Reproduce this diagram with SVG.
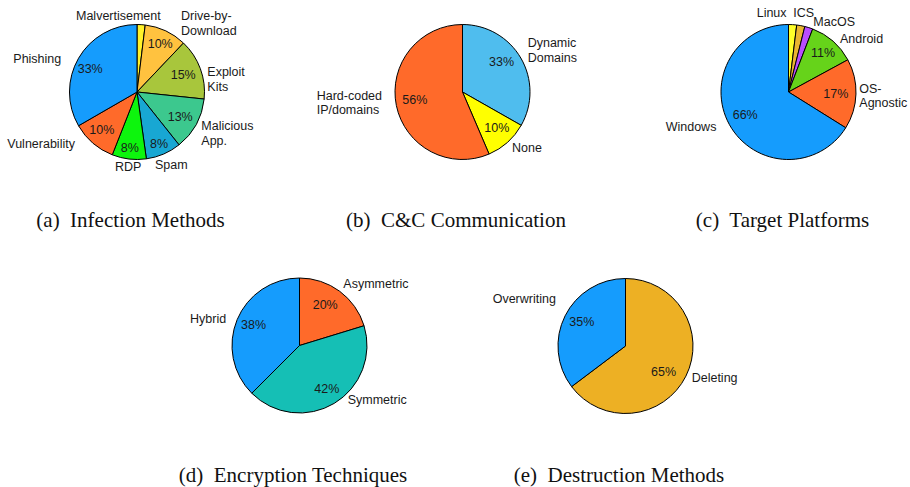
<svg xmlns="http://www.w3.org/2000/svg" width="910" height="487" viewBox="0 0 910 487">
<style>
.s{stroke:#000;stroke-width:1;stroke-linejoin:round}
.l{font-family:"Liberation Sans",Arial,sans-serif;font-size:12.5px;fill:#1a1a1a}
.cap{font-family:"Liberation Serif","Times New Roman",serif;font-size:21px;fill:#111;text-anchor:middle}
</style>
<rect width="910" height="487" fill="#fff"/>

<g id="pie-a">
<path class="s" fill="#FFF22A" d="M137,92 L137,24.5 A67.5,67.5 0 0 1 145.23,25.01 Z"/>
<path class="s" fill="#FFC23F" d="M137,92 L145.23,25.01 A67.5,67.5 0 0 1 183.47,43.04 Z"/>
<path class="s" fill="#A8C63C" d="M137,92 L183.47,43.04 A67.5,67.5 0 0 1 204.13,99.06 Z"/>
<path class="s" fill="#3CC88E" d="M137,92 L204.13,99.06 A67.5,67.5 0 0 1 179.02,144.83 Z"/>
<path class="s" fill="#18A7D3" d="M137,92 L179.02,144.83 A67.5,67.5 0 0 1 146.39,158.84 Z"/>
<path class="s" fill="#0DF50D" d="M137,92 L146.39,158.84 A67.5,67.5 0 0 1 112.26,154.8 Z"/>
<path class="s" fill="#FF6A2A" d="M137,92 L112.26,154.8 A67.5,67.5 0 0 1 78.54,125.75 Z"/>
<path class="s" fill="#159CFD" d="M137,92 L78.54,125.75 A67.5,67.5 0 0 1 137,24.5 Z"/>
<text class="l" x="76" y="20">Malvertisement</text>
<text class="l" x="181" y="20">Drive-by-</text>
<text class="l" x="181" y="35">Download</text>
<text class="l" x="147.7" y="47.7">10%</text>
<text class="l" x="170.7" y="79">15%</text>
<text class="l" x="207.3" y="76">Exploit</text>
<text class="l" x="207.3" y="91">Kits</text>
<text class="l" x="167.7" y="121">13%</text>
<text class="l" x="201.3" y="129.5">Malicious</text>
<text class="l" x="201.3" y="144.5">App.</text>
<text class="l" x="150" y="147.7">8%</text>
<text class="l" x="155" y="169">Spam</text>
<text class="l" x="120.7" y="151.7">8%</text>
<text class="l" x="115" y="171">RDP</text>
<text class="l" x="89.3" y="134.3">10%</text>
<text class="l" x="7.3" y="147.7">Vulnerability</text>
<text class="l" x="77.7" y="73.3">33%</text>
<text class="l" x="13.3" y="62.7">Phishing</text>
<text class="cap" x="130.5" y="227">(a)&#160; Infection Methods</text>
</g>

<g id="pie-b">
<path class="s" fill="#4FBDEE" d="M462.5,92 L462.5,24.5 A67.5,67.5 0 0 1 521.19,125.34 Z"/>
<path class="s" fill="#FFFF00" d="M462.5,92 L521.19,125.34 A67.5,67.5 0 0 1 489.09,154.04 Z"/>
<path class="s" fill="#FF6A2A" d="M462.5,92 L489.09,154.04 A67.5,67.5 0 1 1 462.5,24.5 Z"/>
<text class="l" x="527.7" y="47">Dynamic</text>
<text class="l" x="527.7" y="62">Domains</text>
<text class="l" x="489" y="66">33%</text>
<text class="l" x="316.7" y="100">Hard-coded</text>
<text class="l" x="316.7" y="114.3">IP/domains</text>
<text class="l" x="402.3" y="103.7">56%</text>
<text class="l" x="484.3" y="132.3">10%</text>
<text class="l" x="512" y="151.7">None</text>
<text class="cap" x="456" y="227">(b)&#160; C&amp;C Communication</text>
</g>

<g id="pie-c">
<path class="s" fill="#FFFF2A" d="M788.5,92 L788.5,24.5 A67.5,67.5 0 0 1 796.73,25.01 Z"/>
<path class="s" fill="#EBB530" d="M788.5,92 L796.73,25.01 A67.5,67.5 0 0 1 804.83,26.5 Z"/>
<path class="s" fill="#B94DFF" d="M788.5,92 L804.83,26.5 A67.5,67.5 0 0 1 812.69,28.98 Z"/>
<path class="s" fill="#66D31A" d="M788.5,92 L812.69,28.98 A67.5,67.5 0 0 1 847.82,59.79 Z"/>
<path class="s" fill="#FF6A2A" d="M788.5,92 L847.82,59.79 A67.5,67.5 0 0 1 845.74,127.77 Z"/>
<path class="s" fill="#159CFD" d="M788.5,92 L845.74,127.77 A67.5,67.5 0 1 1 788.5,24.5 Z"/>
<text class="l" x="756.7" y="17.3">Linux</text>
<text class="l" x="793.3" y="16.7">ICS</text>
<text class="l" x="813.3" y="25.7">MacOS</text>
<text class="l" x="840" y="42.7">Android</text>
<text class="l" x="811" y="56.7">11%</text>
<text class="l" x="859.3" y="93.3">OS-</text>
<text class="l" x="859.3" y="107.3">Agnostic</text>
<text class="l" x="823.3" y="97.7">17%</text>
<text class="l" x="732.7" y="119">66%</text>
<text class="l" x="665.7" y="131">Windows</text>
<text class="cap" x="782.5" y="227">(c)&#160; Target Platforms</text>
</g>

<g id="pie-d">
<path class="s" fill="#FF6A2A" d="M299.5,345.5 L299.5,278 A67.5,67.5 0 0 1 364.05,325.76 Z"/>
<path class="s" fill="#15BFB5" d="M299.5,345.5 L364.05,325.76 A67.5,67.5 0 0 1 251.77,393.23 Z"/>
<path class="s" fill="#159CFD" d="M299.5,345.5 L251.77,393.23 A67.5,67.5 0 0 1 299.5,278 Z"/>
<text class="l" x="343.3" y="288.3">Asymmetric</text>
<text class="l" x="312.7" y="309">20%</text>
<text class="l" x="190" y="322.7">Hybrid</text>
<text class="l" x="241" y="329.3">38%</text>
<text class="l" x="314.3" y="393.3">42%</text>
<text class="l" x="347.7" y="404.3">Symmetric</text>
<text class="cap" x="293" y="481.5">(d)&#160; Encryption Techniques</text>
</g>

<g id="pie-e">
<path class="s" fill="#EDB024" d="M625.5,346 L625.5,278.5 A67.5,67.5 0 1 1 571.59,386.62 Z"/>
<path class="s" fill="#159CFD" d="M625.5,346 L571.59,386.62 A67.5,67.5 0 0 1 625.5,278.5 Z"/>
<text class="l" x="492.7" y="302.7">Overwriting</text>
<text class="l" x="569.3" y="326">35%</text>
<text class="l" x="651" y="375.7">65%</text>
<text class="l" x="691.7" y="381.7">Deleting</text>
<text class="cap" x="619" y="481.5">(e)&#160; Destruction Methods</text>
</g>

<g id="connectors"/>
</svg>
